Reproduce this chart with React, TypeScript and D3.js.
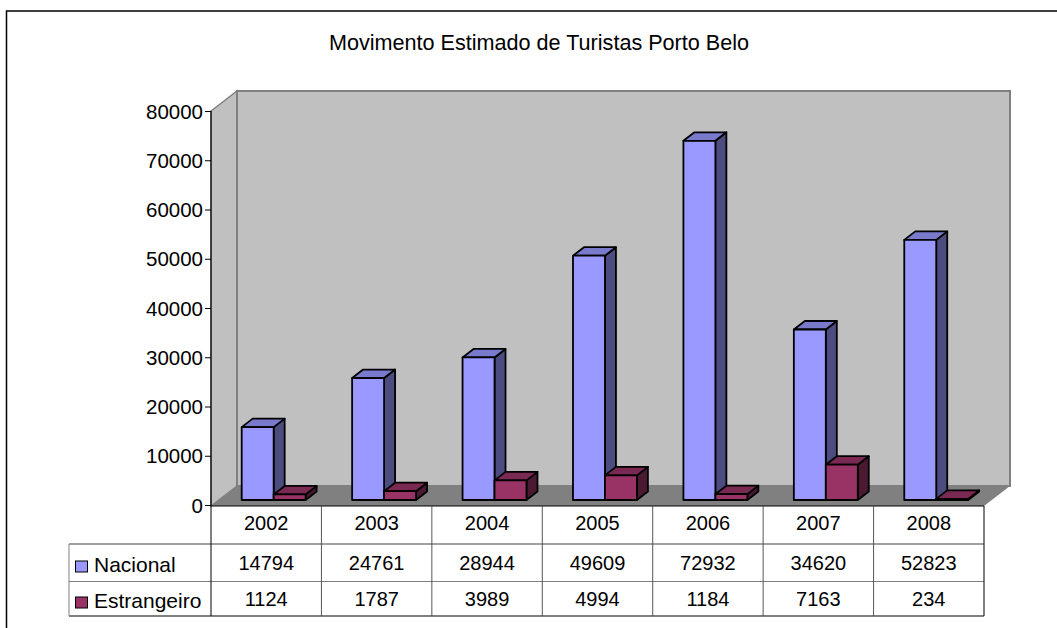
import React from "react";
import * as d3 from "d3";

const years = ["2002", "2003", "2004", "2005", "2006", "2007", "2008"];
const nacional = [14794, 24761, 28944, 49609, 72932, 34620, 52823];
const estrangeiro = [1124, 1787, 3989, 4994, 1184, 7163, 234];
const yTicks = [0, 10000, 20000, 30000, 40000, 50000, 60000, 70000, 80000];
const seriesNames = ["Nacional", "Estrangeiro"];
const seriesValues = [nacional, estrangeiro];
const seriesFront = ["#9999FF", "#993366"];
const seriesTop = ["#7A7ACC", "#7A2952"];
const seriesSide = ["#4C4C80", "#4C1933"];
const title = "Movimento Estimado de Turistas Porto Belo";

const FONT = "'Liberation Sans', Arial, sans-serif";
const plot = { left: 211, right: 984, top: 111, bottom: 506 };
const wall = { dx: 26, dy: -20 };
const barDepth = { dx: 11, dy: -8.5 };
const baseLift = 5.5;
const rows = [506, 544, 581.5, 616];
const legendLeft = 69;

const y = d3.scaleLinear().domain([0, 80000]).range([plot.bottom - 0.5, plot.top + 0.5]);
const x = d3.scaleBand<string>().domain(years).range([plot.left, plot.right]);
const pad = 30.7;
const inner = d3
  .scaleBand<string>()
  .domain(seriesNames)
  .range([pad, x.bandwidth() - 15.8]);

const poly = (pts: number[][]) => pts.map((p) => p.join(",")).join(" ");

export default function App() {
  return (
    <svg
      width={1057}
      height={628}
      style={{ position: "absolute", left: 0, top: 0, background: "#fff" }}
      fontFamily={FONT}
    >
      {/* chart frame */}
      <path d="M6.5,628V11H1057" fill="none" stroke="#000" strokeWidth={1.5} />
      <text x={539} y={50} fontSize={21.6} textAnchor="middle" fill="#000">
        {title}
      </text>

      {/* walls and floor */}
      <polygon
        points={poly([
          [plot.left, plot.top],
          [plot.left + wall.dx, plot.top + wall.dy],
          [plot.left + wall.dx, plot.bottom + wall.dy],
          [plot.left, plot.bottom],
        ])}
        fill="#C0C0C0"
        stroke="#808080"
        strokeWidth={1.5}
      />
      <rect
        x={plot.left + wall.dx}
        y={plot.top + wall.dy}
        width={plot.right - plot.left}
        height={plot.bottom - plot.top}
        fill="#C0C0C0"
        stroke="#808080"
        strokeWidth={2}
      />
      <polygon
        points={poly([
          [plot.left, plot.bottom],
          [plot.left + wall.dx, plot.bottom + wall.dy],
          [plot.right + wall.dx, plot.bottom + wall.dy],
          [plot.right, plot.bottom],
        ])}
        fill="#808080"
      />

      {/* y axis */}
      <line x1={plot.left} x2={plot.left} y1={plot.top} y2={plot.bottom} stroke="#000" strokeWidth={1.2} />
      {yTicks.map((t) => (
        <g key={t}>
          <line x1={plot.left - 6} x2={plot.left} y1={y(t)} y2={y(t)} stroke="#000" strokeWidth={1} />
          <text x={plot.left - 8} y={y(t) + 7} fontSize={20.5} textAnchor="end" fill="#000">
            {t}
          </text>
        </g>
      ))}

      {/* bars */}
      {years.map((yr, i) =>
        seriesNames.map((name, s) => {
          const v = seriesValues[s][i];
          const x0 = (x(yr) as number) + (inner(name) as number);
          const x1 = x0 + inner.bandwidth();
          const y0 = y(0) - baseLift;
          const y1 = y(v) - baseLift;
          const { dx, dy } = barDepth;
          return (
            <g key={yr + name} stroke="#000" strokeWidth={1.8} strokeLinejoin="round">
              <polygon
                points={poly([[x1, y1], [x1 + dx, y1 + dy], [x1 + dx, y0 + dy], [x1, y0]])}
                fill={seriesSide[s]}
              />
              <polygon
                points={poly([[x0, y1], [x0 + dx, y1 + dy], [x1 + dx, y1 + dy], [x1, y1]])}
                fill={seriesTop[s]}
              />
              <rect x={x0} y={y1} width={x1 - x0} height={y0 - y1} fill={seriesFront[s]} />
            </g>
          );
        })
      )}

      {/* data table */}
      <g>
        <line x1={plot.left} x2={plot.right} y1={rows[0]} y2={rows[0]} stroke="#000" strokeWidth={1.2} />
        <line x1={legendLeft} x2={plot.right} y1={rows[1]} y2={rows[1]} stroke="#808080" strokeWidth={1.4} />
        <line x1={legendLeft} x2={plot.right} y1={rows[2]} y2={rows[2]} stroke="#808080" strokeWidth={1} />
        <line x1={legendLeft} x2={plot.right} y1={rows[3]} y2={rows[3]} stroke="#000" strokeWidth={1} />
        <line x1={legendLeft} x2={legendLeft} y1={rows[1]} y2={rows[3]} stroke="#808080" strokeWidth={1} />
        <line x1={plot.left} x2={plot.left} y1={rows[0]} y2={rows[3]} stroke="#000" strokeWidth={1} />
        <line x1={plot.right} x2={plot.right} y1={rows[0]} y2={rows[3]} stroke="#000" strokeWidth={1} />
        {years.slice(1).map((yr) => (
          <line key={yr} x1={x(yr)} x2={x(yr)} y1={rows[0]} y2={rows[3]} stroke="#444" strokeWidth={0.9} />
        ))}
        {years.map((yr, i) => {
          const cx = (x(yr) as number) + x.bandwidth() / 2;
          return (
            <g key={yr} fontSize={20} textAnchor="middle" fill="#000">
              <text x={cx} y={530}>{yr}</text>
              <text x={cx} y={570}>{nacional[i]}</text>
              <text x={cx} y={606}>{estrangeiro[i]}</text>
            </g>
          );
        })}
        {seriesNames.map((name, s) => {
          const rowY = [572, 608][s];
          return (
            <g key={name}>
              <rect x={75.5} y={rowY - 11} width={12} height={11} fill={seriesFront[s]} stroke="#000" strokeWidth={1} />
              <text x={94} y={rowY} fontSize={21} fill="#000">{name}</text>
            </g>
          );
        })}
      </g>
    </svg>
  );
}
